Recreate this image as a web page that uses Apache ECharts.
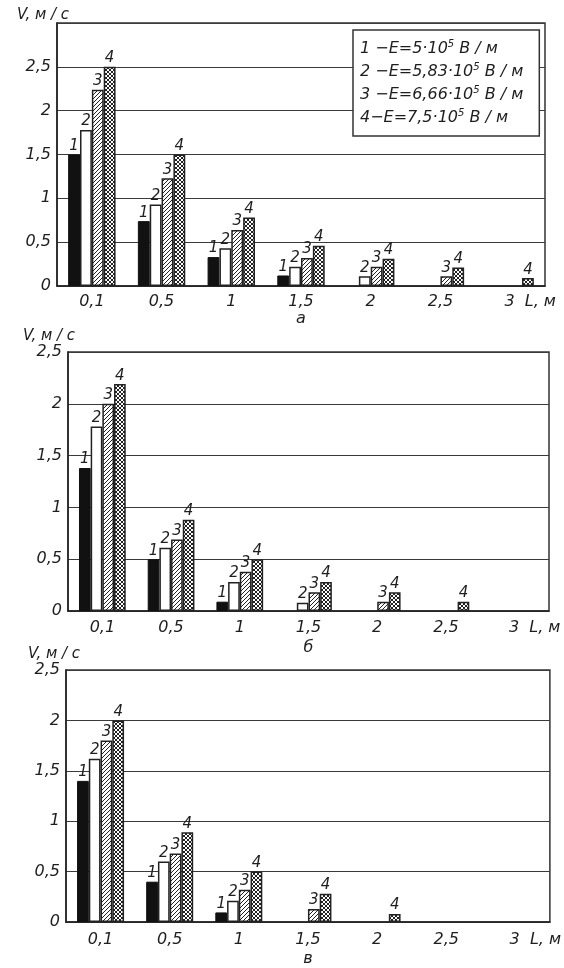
<!DOCTYPE html>
<html>
<head>
<meta charset="utf-8">
<script src="https://cdn.jsdelivr.net/npm/echarts@6/dist/echarts.min.js"></script>
<style>
  html, body { margin: 0; background: #fff; }
  #chart { width: 564px; height: 968px; }
</style>
</head>
<body>
<div id="chart"></div>
<script>
// L, m
const categories = ['0,1', '0,5', '1', '1,5', '2', '2,5', '3'];

// panel а
const panelA1 = [1.5, 0.74, 0.33, 0.12, null, null, null];
const panelA2 = [1.78, 0.93, 0.43, 0.22, 0.11, null, null];
const panelA3 = [2.24, 1.23, 0.64, 0.32, 0.22, 0.11, null];
const panelA4 = [2.5, 1.5, 0.78, 0.46, 0.31, 0.21, 0.09];
// panel б
const panelB1 = [1.38, 0.5, 0.09, null, null, null, null];
const panelB2 = [1.78, 0.61, 0.28, 0.08, null, null, null];
const panelB3 = [2.0, 0.69, 0.38, 0.18, 0.09, null, null];
const panelB4 = [2.19, 0.88, 0.5, 0.28, 0.18, 0.09, null];
// panel в
const panelC1 = [1.4, 0.4, 0.095, null, null, null, null];
const panelC2 = [1.62, 0.6, 0.21, null, null, null, null];
const panelC3 = [1.8, 0.68, 0.32, 0.13, null, null, null];
const panelC4 = [2.0, 0.89, 0.5, 0.28, 0.08, null, null];

const panelLetters = ['а', 'б', 'в'];
const panelMax = [3, 2.5, 2.5];
const legendPrefix = ['1 −E=5·10', '2 −E=5,83·10', '3 −E=6,66·10', '4−E=7,5·10'];
const legendExp = '5';
const legendUnit = ' В / м';

const FONT = 'DejaVu Sans';
const INK = '#1e1e1e';

function makePattern(cross, size) {
  const c = document.createElement('canvas');
  c.width = c.height = size;
  const g = c.getContext('2d');
  g.fillStyle = '#fff';
  g.fillRect(0, 0, size, size);
  g.strokeStyle = '#222';
  g.lineWidth = 1;
  g.beginPath();
  for (const o of [-size, 0, size]) {
    g.moveTo(o, size); g.lineTo(o + size, 0);
    if (cross) { g.moveTo(o, 0); g.lineTo(o + size, size); }
  }
  g.stroke();
  return c;
}

const styles = [
  { color: '#111', borderColor: '#111', borderWidth: 1 },
  { color: '#fff', borderColor: '#222', borderWidth: 1.5 },
  { color: { image: makePattern(false, 4), repeat: 'repeat' }, borderColor: '#222', borderWidth: 1.5 },
  { color: { image: makePattern(true, 4), repeat: 'repeat' }, borderColor: '#222', borderWidth: 1.5 }
];

const panels = [
  [panelA1, panelA2, panelA3, panelA4],
  [panelB1, panelB2, panelB3, panelB4],
  [panelC1, panelC2, panelC3, panelC4]
];

const grids = [
  { left: 57, top: 23, width: 488, height: 263 },
  { left: 68, top: 352, width: 481, height: 259 },
  { left: 66, top: 670, width: 485, height: 256 }
];
const nameGaps = [24, 29, 29];
const labelMargins = [8, 9, 10];
const yNamePad = [28, 38, 24];
const yNameGap = [0, 6, 7];

const textBase = { fontFamily: FONT, fontStyle: 'italic', color: INK };

const option = {
  backgroundColor: '#fff',
  animation: false,
  grid: grids.map(g => ({ ...g, show: true, borderColor: '#333', borderWidth: 1.5, containLabel: false })),
  legend: {
    data: ['E1', 'E2', 'E3', 'E4'],
    orient: 'vertical',
    left: 353,
    top: 30,
    icon: 'none',
    itemWidth: 0,
    itemHeight: 0,
    itemGap: 5,
    padding: [9, 16, 10, 2],
    backgroundColor: '#fff',
    borderColor: '#333',
    borderWidth: 1.5,
    selectedMode: false,
    formatter: name => {
      const i = +name.slice(1) - 1;
      return '{n|' + legendPrefix[i] + '}{s|' + legendExp + '}{n|' + legendUnit + '}';
    },
    textStyle: {
      rich: {
        n: { ...textBase, fontSize: 16, lineHeight: 20 },
        s: { ...textBase, fontSize: 10, verticalAlign: 'top' }
      }
    }
  },
  xAxis: grids.map((g, p) => ({
    type: 'category',
    gridIndex: p,
    data: categories,
    name: panelLetters[p],
    nameLocation: 'middle',
    nameGap: nameGaps[p],
    nameTextStyle: { ...textBase, fontSize: 16 },
    axisLine: { lineStyle: { color: '#222', width: 1.5 } },
    axisTick: { show: false },
    axisLabel: {
      ...textBase,
      fontSize: 16,
      interval: 0,
      hideOverlap: false,
      margin: labelMargins[p],
      formatter: (v, i) => i === categories.length - 1 ? '{last|' + v + '  L, м}' : v,
      rich: { last: { ...textBase, fontSize: 16, padding: [0, 0, 0, 40] } }
    }
  })),
  yAxis: grids.map((g, p) => ({
    type: 'value',
    gridIndex: p,
    min: 0,
    max: panelMax[p],
    interval: 0.5,
    name: 'V, м / с',
    nameLocation: 'end',
    nameGap: yNameGap[p],
    nameTextStyle: { ...textBase, fontSize: 15, align: 'center', padding: [0, yNamePad[p], 0, 0] },
    axisLine: { show: true, lineStyle: { color: '#222', width: 1.5 } },
    axisTick: { show: false },
    splitLine: { lineStyle: { color: '#3a3a3a', width: 1.2 } },
    axisLabel: {
      ...textBase,
      fontSize: 16,
      margin: 6,
      formatter: v => v > 2.5 ? '' : String(v).replace('.', ',')
    }
  })),
  series: []
};

panels.forEach((set, p) => {
  set.forEach((vals, k) => {
    option.series.push({
      type: 'bar',
      name: p === 0 ? 'E' + (k + 1) : panelLetters[p] + (k + 1),
      xAxisIndex: p,
      yAxisIndex: p,
      data: vals,
      barGap: '0%',
      barCategoryGap: '32%',
      itemStyle: styles[k],
      label: {
        show: true,
        position: 'top',
        distance: 1,
        formatter: String(k + 1),
        ...textBase,
        fontSize: 15
      }
    });
  });
});

const chart = echarts.init(document.getElementById('chart'));
chart.setOption(option);
</script>
</body>
</html>
